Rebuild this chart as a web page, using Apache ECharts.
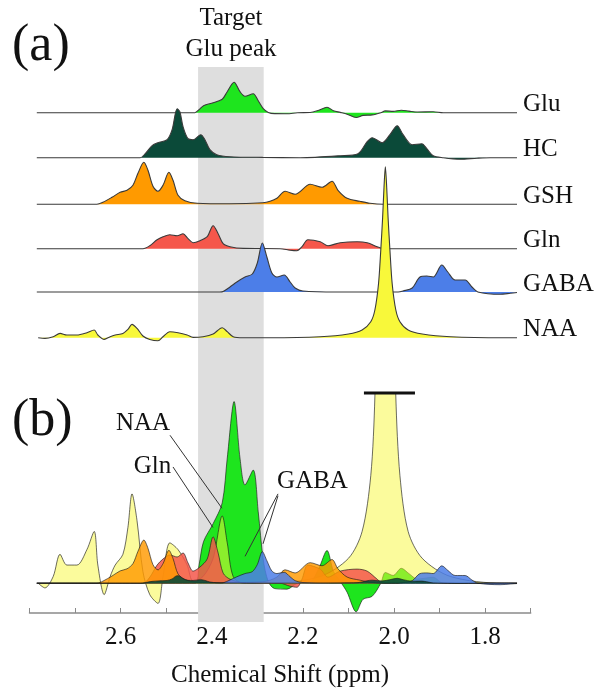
<!DOCTYPE html>
<html>
<head>
<meta charset="utf-8">
<style>
  html, body { margin: 0; padding: 0; background: #fff; }
  #container { width: 597px; height: 689px; }
</style>
<script src="https://cdn.jsdelivr.net/npm/echarts@6/dist/echarts.min.js"></script>
</head>
<body>
<div id="container"></div>
<script>
// spectra: [ppm, height above own baseline]
var metabolites = ['Glu', 'HC', 'GSH', 'Gln', 'GABA', 'NAA'];

var glu = [[2.784,0],[2.437,0],[2.428,3],[2.418,7],[2.397,10],[2.377,13.5],[2.366,21],[2.351,30.5],
  [2.338,21],[2.327,16.5],[2.309,19],[2.298,12],[2.287,4],[2.276,0.3],[2.262,-0.9],[2.235,-1],
  [2.212,0],[2.184,0.2],[2.165,2.5],[2.147,5.5],[2.133,2],[2.118,0.3],[2.103,-1.5],[2.083,-4.8],
  [2.068,-2.7],[2.048,-2.2],[2.029,0],[2.019,1.8],[2.002,1.3],[1.984,2.5],[1.967,1.6],[1.949,0.7],
  [1.914,1],[1.892,0],[1.730,0]];

var hc = [[2.784,0],[2.557,0],[2.546,4],[2.531,12],[2.518,15],[2.498,18],[2.487,28],[2.476,49],
  [2.470,46],[2.463,31],[2.452,19],[2.441,18],[2.424,23],[2.415,18],[2.404,8],[2.389,3],[2.360,1],
  [2.288,0.3],[2.206,0],[2.118,2],[2.079,4],[2.059,16],[2.048,20],[2.026,15],[2.009,23],[1.993,32],
  [1.980,23],[1.960,13],[1.939,14],[1.928,9],[1.914,2],[1.892,0],[1.855,-1.5],[1.818,-0.5],
  [1.789,0],[1.730,0]];

var gsh = [[2.784,0],[2.652,0],[2.639,2],[2.619,7],[2.601,12],[2.586,14],[2.573,19],[2.562,31],
  [2.549,42],[2.540,34],[2.529,18],[2.518,13],[2.507,19],[2.494,32],[2.485,24],[2.474,9],
  [2.459,3.5],[2.432,1],[2.360,0.5],[2.288,1.5],[2.272,3],[2.257,6],[2.239,13],[2.217,10],
  [2.184,20],[2.158,17],[2.136,23],[2.123,14],[2.103,6],[2.075,3],[2.053,1],[2.024,0],[1.730,0]];

var gln = [[2.784,0],[2.551,0],[2.536,3],[2.520,9],[2.507,12],[2.492,14],[2.476,13],[2.463,15],
  [2.452,10],[2.441,6],[2.426,8],[2.410,12],[2.397,23],[2.386,15],[2.375,5],[2.360,2],[2.331,0.3],
  [2.250,0],[2.228,-1.5],[2.213,-2],[2.202,2],[2.189,9],[2.162,7],[2.145,3],[2.118,6],[2.081,7],
  [2.059,6],[2.037,2],[2.024,0],[1.730,0]];

var gaba = [[2.784,0],[2.382,0],[2.375,0.5],[2.360,5],[2.345,10],[2.327,15],[2.311,18],[2.300,29],
  [2.289,49],[2.279,35],[2.268,19],[2.257,15],[2.241,17],[2.228,10],[2.217,4],[2.200,1],[2.125,0],
  [1.991,0],[1.980,1],[1.960,4],[1.943,15],[1.928,16],[1.914,15],[1.895,27],[1.882,20],[1.866,12],
  [1.844,12],[1.829,5],[1.816,0],[1.767,-2.3],[1.745,-1.3],[1.730,-0.5]];

var naa = [[2.781,0],[2.766,-0.7],[2.748,1],[2.733,4.3],[2.718,2.7],[2.696,2.7],[2.674,5],[2.658,7.7],
  [2.650,2.7],[2.636,-1.7],[2.623,1],[2.612,2.7],[2.595,4.3],[2.584,8.3],[2.575,13.3],[2.564,9.3],
  [2.551,1.7],[2.536,-1.7],[2.518,-3],[2.507,1],[2.492,6],[2.474,5],[2.454,2.7],[2.441,0.3],
  [2.419,1],[2.397,3.7],[2.377,10],[2.366,6],[2.353,1],[2.331,0],[2.272,0],[2.162,1],[2.100,3.7],
  [2.070,7.7],[2.051,16],[2.042,27.7],[2.034,54],[2.029,88],[2.025,120],[2.022,150],[2.019,171],
  [2.016,150],[2.013,120],[2.009,88],[2.004,54],[1.996,27.7],[1.987,16],[1.969,7.7],[1.938,3.7],
  [1.876,1],[1.761,0],[1.730,0]];

var spectra = [glu, hc, gsh, gln, gaba, naa];

// weight of each metabolite in the overlay of panel (b)
var overlayScale = [6.2, 0.16, 1.07, 2.1, 0.67, 7];
var overlayOrder = [0, 5, 3, 2, 4, 1];

var tickLabels = ['2.6', '2.4', '2.2', '2.0', '1.8'];
var targetBand = [2.43, 2.286];
var naaClip = [2.066, 1.954];   // ppm span of the truncated NAA top in (b)

// callout lines in (b): [ppm, intensity] pairs
var callouts = [
  [[2.4916, 154], [2.3775, 78]],
  [[2.4850, 121], [2.3972, 58]],
  [[2.2546, 93], [2.3270, 28]],
  [[2.2546, 91], [2.2875, 41]]
];

// layout / style
var colors = ['#1ee51e', '#0b4a39', '#ff9a00', '#f5574b', '#4c7ee8', '#f8f83a'];
var overlayOpacity = [1, 0.9, 0.82, 0.85, 0.85, 0.5];
var baseY = [112.7, 157.7, 204.3, 248.7, 292, 337.7];
var plotLeft = 29.5, plotRight = 66.3;
var bTop = 393, axisY = 622, H = 689;
var serif = '"Liberation Serif", "Times New Roman", serif';

var grids = [], xAxes = [], yAxes = [], series = [];

function hiddenX(gi) {
  return { gridIndex: gi, type: 'value', min: 1.7, max: 2.8, inverse: true, show: false };
}

// shaded target band, spans both panels
grids.push({ left: plotLeft, right: plotRight, top: 67, bottom: H - axisY });
xAxes.push(hiddenX(0));
yAxes.push({ gridIndex: 0, type: 'value', min: 0, max: 1, show: false });
series.push({
  type: 'line', xAxisIndex: 0, yAxisIndex: 0, z: 0, silent: true,
  data: [[2.8, 0]], showSymbol: false, lineStyle: { width: 0 },
  markArea: {
    silent: true, itemStyle: { color: '#dedede' },
    data: [[{ xAxis: targetBand[0] }, { xAxis: targetBand[1] }]]
  }
});

// panel (a): one grid per metabolite
metabolites.forEach(function (name, i) {
  var gi = i + 1;
  grids.push({ left: plotLeft, right: plotRight, top: baseY[i] - 50, height: 60 });
  xAxes.push(hiddenX(gi));
  yAxes.push({ gridIndex: gi, type: 'value', min: -10, max: 50, show: false });
  series.push({
    name: name, type: 'line', xAxisIndex: gi, yAxisIndex: gi, z: 2 + i,
    data: spectra[i], smooth: 0.3, showSymbol: false, clip: false,
    lineStyle: { color: '#3a3a3a', width: 1.1 },
    areaStyle: { color: colors[i], opacity: 1, origin: 0 }
  });
});

// panel (b): weighted overlay
var gb = 7;
grids.push({ left: plotLeft, right: plotRight, top: bTop, bottom: H - axisY });
xAxes.push({
  gridIndex: gb, type: 'value', min: 1.7, max: 2.8, interval: 0.1, inverse: true,
  axisLine: { onZero: false, lineStyle: { color: '#8a8a8a', width: 1.5 } },
  axisTick: { inside: true, length: 5, lineStyle: { color: '#8a8a8a', width: 1 } },
  splitLine: { show: false },
  axisLabel: {
    margin: 12, fontFamily: serif, fontSize: 25, color: '#111',
    formatter: function (v) {
      var s = v.toFixed(1);
      return tickLabels.indexOf(s) >= 0 ? s : '';
    }
  },
  name: 'Chemical Shift (ppm)', nameLocation: 'middle', nameGap: 50,
  nameTextStyle: { fontFamily: serif, fontSize: 25, color: '#111' }
});
yAxes.push({ gridIndex: gb, type: 'value', min: -(axisY - 591), max: 591 - bTop, show: false });

overlayOrder.forEach(function (i, k) {
  series.push({
    name: metabolites[i] + ' (b)', type: 'line', xAxisIndex: gb, yAxisIndex: gb, z: 10 + k,
    data: spectra[i].map(function (p) { return [p[0], p[1] * overlayScale[i]]; }),
    smooth: 0.3, showSymbol: false,
    lineStyle: { color: 'rgba(25,25,25,0.8)', width: 0.8 },
    areaStyle: { color: colors[i], opacity: overlayOpacity[i], origin: 0 }
  });
});

// truncation bar on the NAA peak
series.push({
  type: 'line', xAxisIndex: gb, yAxisIndex: gb, z: 30, clip: false, showSymbol: false,
  data: [[naaClip[0], 591 - bTop], [naaClip[1], 591 - bTop]],
  lineStyle: { color: '#111', width: 3 }
});

callouts.forEach(function (seg) {
  series.push({
    type: 'line', xAxisIndex: gb, yAxisIndex: gb, z: 30, clip: false, showSymbol: false,
    data: seg, lineStyle: { color: '#333', width: 1 }
  });
});

function label(text, x, y, size, align) {
  return {
    type: 'text', x: x, y: y, z: 50,
    style: {
      text: text, fill: '#111', font: size + 'px ' + serif,
      align: align || 'left', verticalAlign: 'middle'
    }
  };
}

var texts = [
  label('(a)', 12, 46, 52),
  label('(b)', 12, 421, 52),
  label('Target', 231, 18.5, 25, 'center'),
  label('Glu peak', 231, 49.5, 25, 'center'),
  label('NAA', 143, 423.5, 25, 'center'),
  label('Gln', 152.5, 466.5, 25, 'center'),
  label('GABA', 312.5, 481.5, 25, 'center')
];
// row names to the right of each trace in (a)
metabolites.forEach(function (name, i) {
  texts.push(label(name, 523, baseY[i] - 8, 25));
});

var option = {
  animation: false,
  backgroundColor: '#fff',
  grid: grids,
  xAxis: xAxes,
  yAxis: yAxes,
  series: series,
  graphic: texts
};

var myChart = echarts.init(document.getElementById('container'));
myChart.setOption(option);

window.addEventListener('resize', function () {
  myChart.resize();
});
</script>
</body>
</html>
